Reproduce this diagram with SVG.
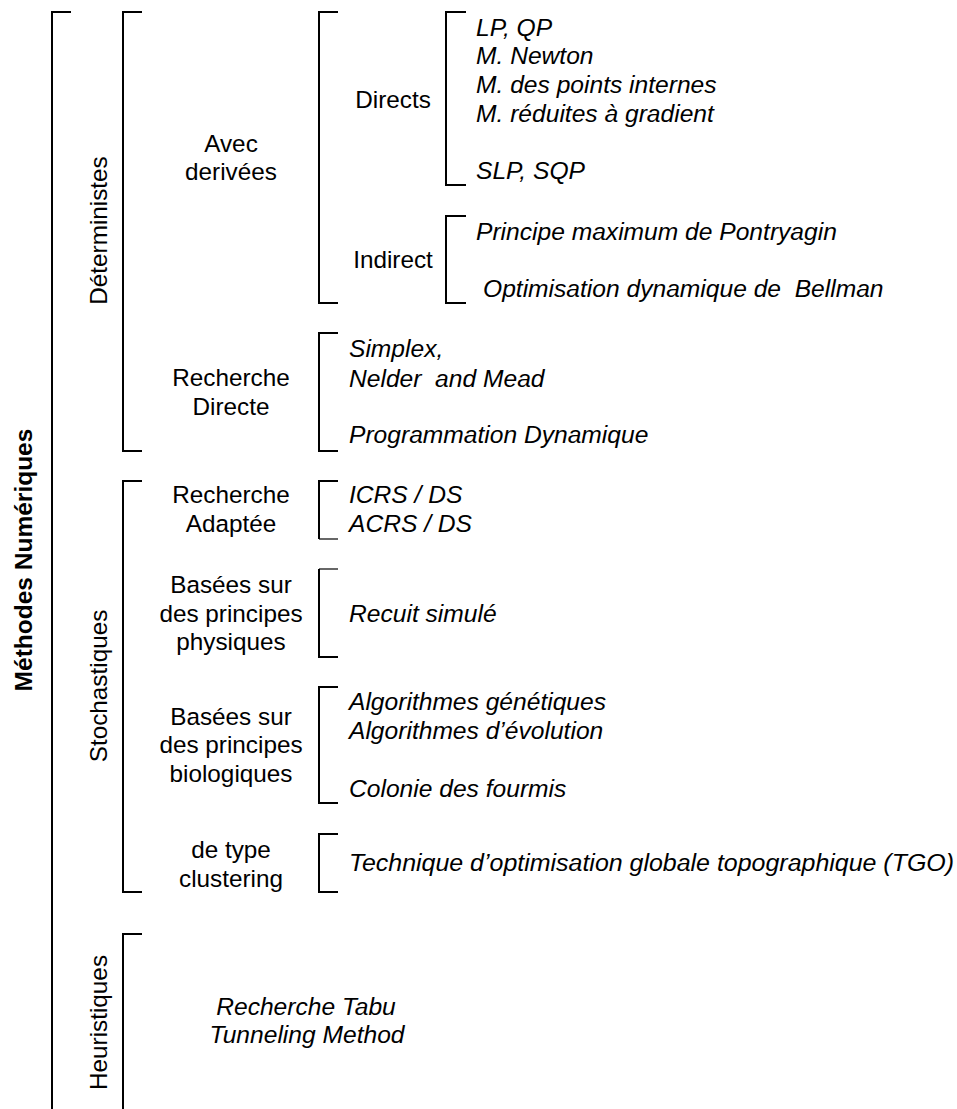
<svg xmlns="http://www.w3.org/2000/svg" width="957" height="1109" viewBox="0 0 957 1109">
<style>
.br{fill:none;stroke:#000;stroke-width:2}
.thin{fill:none;stroke:#000;stroke-width:1.2}
.t{font-family:"Liberation Sans",Arial,sans-serif;font-size:24.3px;fill:#000}
.c{text-anchor:middle}
.i{font-family:"Liberation Sans",Arial,sans-serif;font-size:24.6px;font-style:italic;fill:#000}
.b{font-family:"Liberation Sans",Arial,sans-serif;font-size:24.5px;font-weight:bold;fill:#000;text-anchor:middle}
</style>
<rect width="957" height="1109" fill="#fff"/>
<g id="connectors">
<path class="br" d="M71,12 H52 V1109"/>
<path class="br" d="M142,12 H123 V451 H142"/>
<path class="br" d="M142,481 H123 V892 H142"/>
<path class="br" d="M142,934 H123 V1109"/>
<path class="br" d="M338,12 H319 V303 H338"/>
<path class="br" d="M466,12 H446 V185 H466"/>
<path class="br" d="M466,216 H446 V303 H466"/>
<path class="br" d="M338,333 H319 V451 H338"/>
<path class="br" d="M338,481 H319 V539"/>
<path class="thin" d="M319,539 H338"/>
<path class="br" d="M319,569 V657 H338"/>
<path class="thin" d="M319,569 H338"/>
<path class="br" d="M338,687 H319 V803 H338"/>
<path class="br" d="M338,834 H319 V892 H338"/>
</g>
<g id="methodes-numeriques"><text class="b" transform="translate(32,560) rotate(-90)">Méthodes Numériques</text></g>
<g id="deterministes"><text class="t c" transform="translate(107,230.5) rotate(-90)">Déterministes</text></g>
<g id="stochastiques"><text class="t c" transform="translate(107,686) rotate(-90)">Stochastiques</text></g>
<g id="heuristiques"><text class="t c" transform="translate(107,1022.5) rotate(-90)">Heuristiques</text></g>
<g id="avec-derivees"><text class="t c" x="231" y="152">Avec</text><text class="t c" x="231" y="180">derivées</text></g>
<g id="directs"><text class="t c" x="393" y="108">Directs</text></g>
<g id="indirect"><text class="t c" x="393" y="268">Indirect</text></g>
<g id="directs-items">
<text class="i" x="476" y="36">LP, QP</text>
<text class="i" x="476" y="64">M. Newton</text>
<text class="i" x="476" y="93">M. des points internes</text>
<text class="i" x="476" y="122">M. réduites à gradient</text>
<text class="i" x="476" y="179">SLP, SQP</text>
</g>
<g id="indirect-items">
<text class="i" x="476" y="240">Principe maximum de Pontryagin</text>
<text class="i" x="483" y="297" xml:space="preserve">Optimisation dynamique de  Bellman</text>
</g>
<g id="recherche-directe"><text class="t c" x="231" y="386">Recherche</text><text class="t c" x="231" y="415">Directe</text></g>
<g id="recherche-directe-items">
<text class="i" x="349" y="357">Simplex,</text>
<text class="i" x="349" y="387" xml:space="preserve">Nelder  and Mead</text>
<text class="i" x="349" y="443">Programmation Dynamique</text>
</g>
<g id="recherche-adaptee"><text class="t c" x="231" y="503">Recherche</text><text class="t c" x="231" y="532">Adaptée</text></g>
<g id="recherche-adaptee-items">
<text class="i" x="349" y="503">ICRS / DS</text>
<text class="i" x="349" y="532">ACRS / DS</text>
</g>
<g id="principes-physiques"><text class="t c" x="231" y="593">Basées sur</text><text class="t c" x="231" y="622">des principes</text><text class="t c" x="231" y="650">physiques</text></g>
<g id="physiques-items"><text class="i" x="349" y="622">Recuit simulé</text></g>
<g id="principes-biologiques"><text class="t c" x="231" y="725">Basées sur</text><text class="t c" x="231" y="753">des principes</text><text class="t c" x="231" y="782">biologiques</text></g>
<g id="biologiques-items">
<text class="i" x="349" y="710">Algorithmes génétiques</text>
<text class="i" x="349" y="739">Algorithmes d’évolution</text>
<text class="i" x="349" y="797">Colonie des fourmis</text>
</g>
<g id="clustering"><text class="t c" x="231" y="858">de type</text><text class="t c" x="231" y="887">clustering</text></g>
<g id="clustering-items"><text class="i" x="349" y="871" textLength="605" lengthAdjust="spacingAndGlyphs">Technique d’optimisation globale topographique (TGO)</text></g>
<g id="heuristiques-items">
<text class="i c" x="306" y="1015">Recherche Tabu</text>
<text class="i c" x="307" y="1043">Tunneling Method</text>
</g>
</svg>
